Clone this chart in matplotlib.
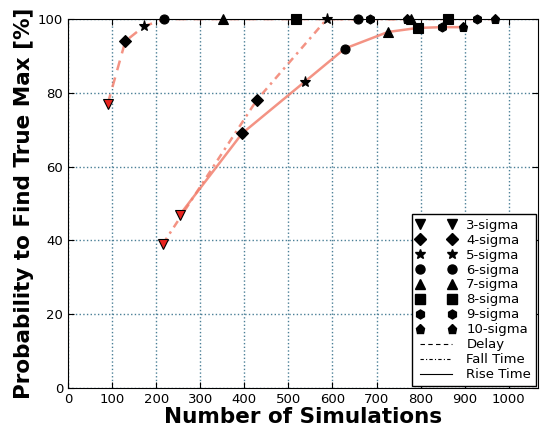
import numpy as np
import matplotlib
matplotlib.use('Agg')
import matplotlib.pyplot as plt
from matplotlib.lines import Line2D

# sigma levels and their markers
sigma_labels = ['3-sigma', '4-sigma', '5-sigma', '6-sigma', '7-sigma', '8-sigma', '9-sigma', '10-sigma']
sigma_markers = ['v', 'D', '*', 'o', '^', 's', 'h', 'p']

# number of simulations / probability for each sigma level (3..10)
delay_n = [90, 130, 172, 218, 352, 517, 685, 769]
delay_p = [77, 94, 98, 100, 100, 100, 100, 100]

fall_n = [215, 428, 587, 658, 778, 862, 927, 968]
fall_p = [39, 78, 100, 100, 100, 100, 100, 100]

rise_n = [254, 395, 537, 628, 726, 794, 848, 896]
rise_p = [47, 69, 83, 92, 96.5, 97.6, 97.8, 97.8]

curves = [('Delay', (0, (4, 3)), delay_n, delay_p),
          ('Fall Time', (0, (3, 2, 1, 2)), fall_n, fall_p),
          ('Rise Time', '-', rise_n, rise_p)]

line_color = '#f2806e'

fig = plt.figure(figsize=(5.4, 4.33), dpi=100)
ax = fig.add_axes([0.126, 0.104, 0.87, 0.852])

for name, ls, n, p in curves:
    ax.plot(n, p, linestyle=ls, color=line_color, lw=1.8, alpha=0.85, zorder=2)
    for i in range(len(n)):
        face = '#e8231e' if i == 0 else 'k'
        ms = 8 if sigma_markers[i] == '*' else 6.5
        ax.plot(n[i], p[i], sigma_markers[i], color=face, mec='k', mew=0.8,
                ms=ms, zorder=3, clip_on=False)

ax.set_xlim(0, 1066)
ax.set_ylim(0, 100)
ax.set_xticks(np.arange(0, 1001, 100))
ax.set_yticks(np.arange(0, 101, 20))
ax.grid(True, linestyle=':', color='#4a7f96', lw=1.0)
ax.tick_params(direction='in', top=True, right=True, labelsize=9.5, length=4)
ax.set_xlabel('Number of Simulations', fontsize=15.5, fontweight='bold', labelpad=1)
ax.set_ylabel('Probability to Find True Max [%]', fontsize=15.5, fontweight='bold', labelpad=3)

handles = []
for lab, m in zip(sigma_labels, sigma_markers):
    handles.append(Line2D([], [], marker=m, color='k', ls='none',
                          ms=7 if m == '*' else 6.5, label=lab))
for name, ls, n, p in curves:
    handles.append(Line2D([], [], linestyle=ls, color='k', lw=0.8, label=name))

leg = ax.legend(handles=handles, loc='lower right', numpoints=2, fontsize=9.5,
                fancybox=False, framealpha=1, edgecolor='k', borderaxespad=0.15,
                handlelength=3.0, labelspacing=0.15, borderpad=0.35, handletextpad=0.8)
leg.get_frame().set_linewidth(1)

fig.savefig('out.png', dpi=100)
